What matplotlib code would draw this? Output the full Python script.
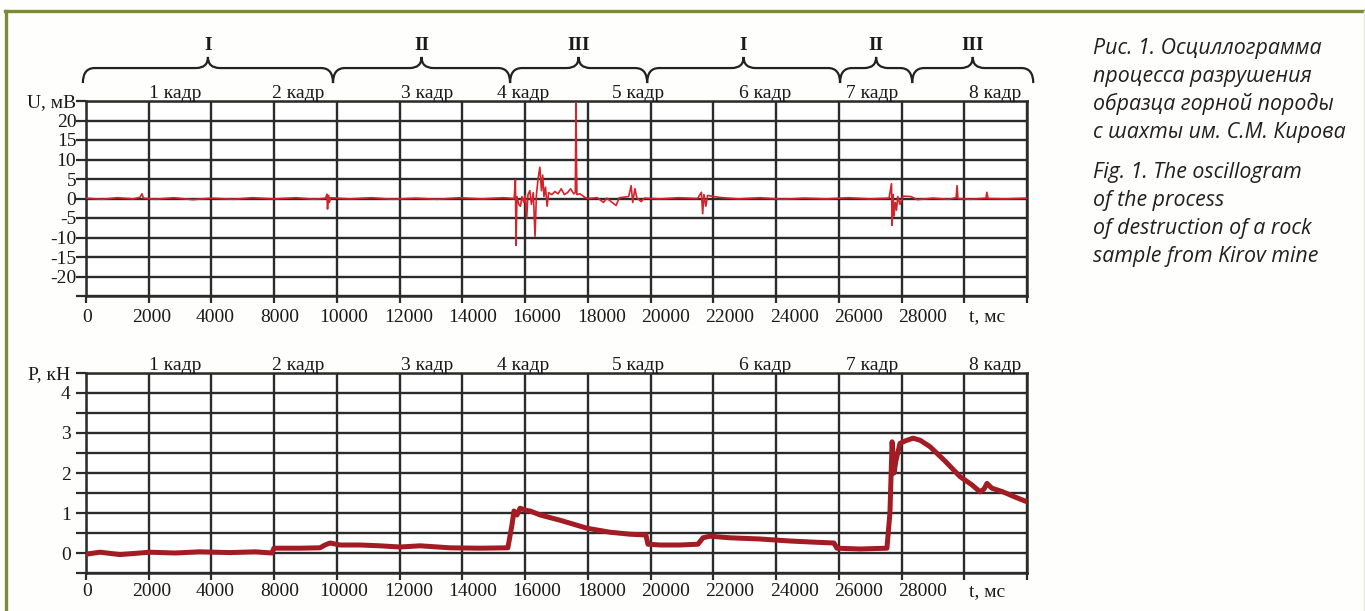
import numpy as np
import matplotlib
matplotlib.use('Agg')
import matplotlib.pyplot as plt
from matplotlib.path import Path
from matplotlib.patches import PathPatch
from matplotlib.lines import Line2D
import matplotlib.transforms as mtrans

W, H, DPI = 1365, 611, 100

# ---------------- data ----------------
x_grid = list(range(0, 30001, 2000))          # grid positions (axis units)
x_labels = ['0', '2000', '4000', '8000', '10000', '12000', '14000', '16000',
            '18000', '20000', '22000', '24000', '26000', '28000', 't, мс']

u_ticks = [-25, -20, -15, -10, -5, 0, 5, 10, 15, 20, 25]
u_labels = ['', '-20', '-15', '-10', '-5', '0', '5', '10', '15', '20', 'U, мВ']
p_ticks = [-0.5, 0, 0.5, 1, 1.5, 2, 2.5, 3, 3.5, 4, 4.5]
p_labels = ['', '0', '', '1', '', '2', '', '3', '', '4', 'P, кН']

frame_labels = ['1 кадр', '2 кадр', '3 кадр', '4 кадр', '5 кадр', '6 кадр', '7 кадр', '8 кадр']
frame_pos = [2840, 6760, 10870, 13930, 17600, 21650, 25060, 28980]

phase_bounds = [-100, 7875, 13520, 17890, 24040, 26340, 30200]
phase_labels = ['I', 'II', 'III', 'I', 'II', 'III']

# U, mV (top oscillogram)
u_t = [0, 500, 1000, 1500, 1720, 1785, 1830, 2200, 2800, 3400, 4000, 4700, 5300, 6000,
       6700, 7300, 7640, 7680, 7700, 7730, 7760, 7800, 8400, 9100, 9800, 10500, 11200,
       11900, 12600, 13300, 13650, 13690, 13710, 13740, 13800, 13850, 13900, 13960, 14000,
       14050, 14090, 14150, 14200, 14260, 14315, 14360, 14420, 14470, 14520, 14560, 14600,
       14650, 14700, 14750, 14850, 14950, 15050, 15150, 15250, 15350, 15450, 15550, 15600,
       15620, 15650, 15750, 15900, 16000, 16300, 16500, 16600, 16900, 17000, 17300, 17380,
       17430, 17500, 17560, 17700, 17800, 18300, 18900, 19500, 19620, 19660, 19700, 19760,
       19820, 20000, 20300, 20800, 21500, 22200, 22900, 23600, 24300, 25000, 25600, 25680,
       25700, 25730, 25760, 25800, 25840, 25880, 25950, 26050, 26300, 26500, 27000, 27500,
       27740, 27770, 27800, 28200, 28690, 28720, 28760, 29300, 30000]
u_v = [0.1, -0.2, 0.2, -0.1, 0.3, 1.2, 0.1, -0.2, 0.2, -0.3, 0.1, -0.2, 0.2, -0.1,
       0.2, -0.2, 0.1, 1.1, -2.7, 0.8, -1.0, 0.2, -0.1, 0.2, -0.2, 0.1, -0.2,
       0.2, -0.1, 0.2, 0.0, 4.8, -12.0, 0.5, -1.5, -2.0, 0.5, -1.0, 0.8,
       -5.0, 1.0, 2.0, -1.5, 1.5, -9.7, 1.0, 5.5, 8.0, 2.0, 6.0, 0.5,
       2.9, -2.0, 1.5, 1.0, 1.8, 1.2, 2.5, 1.0, 1.5, 2.5, 1.2, 1.5,
       24.4, 1.0, 1.2, 0.3, 0.0, 0.2, -1.0, 0.1, -1.8, 0.2, 0.5, 3.3,
       -1.0, 2.5, 0.2, -0.8, 0.1, -0.1, 0.2, 0.0, 1.6, -3.9, 1.0, -2.0,
       0.8, 0.5, 0.2, -0.1, 0.2, -0.2, 0.1, -0.1, 0.2, -0.1, 0.1, 3.8,
       -6.9, 1.0, -4.5, -1.0, -3.0, 0.5, -1.5, 0.6, 0.5, -0.3, 0.1, -0.2,
       0.2, 3.3, 0.0, -0.2, 0.1, 1.6, 0.0, -0.1, 0.1]

# P, kN (bottom oscillogram)
p_t = [0, 450, 1080, 1720, 2040, 2840, 3630, 4590, 5390, 5930, 5990, 6820, 7460, 7620,
       7780, 8100, 8740, 9370, 10010, 10650, 11600, 12560, 13450, 13580, 13645, 13740,
       13840, 14000, 14160, 14480, 15110, 15970, 16700, 17340, 17850, 17915, 18300, 18940,
       19510, 19670, 19890, 20530, 21490, 22440, 23240, 23845, 23940, 24680, 25535, 25630,
       25665, 25700, 25760, 25820, 25950, 26110, 26365, 26590, 26905, 27385, 27865, 28250,
       28500, 28630, 28725, 28880, 29230, 29615, 30000]
p_v = [-0.03, 0.02, -0.04, 0.0, 0.02, 0.0, 0.03, 0.01, 0.03, 0.0, 0.12, 0.12, 0.13, 0.2,
       0.25, 0.2, 0.2, 0.18, 0.15, 0.18, 0.13, 0.12, 0.13, 0.7, 1.05, 0.95,
       1.12, 1.07, 1.05, 0.95, 0.82, 0.62, 0.52, 0.47, 0.45, 0.22, 0.2, 0.2,
       0.22, 0.38, 0.42, 0.38, 0.35, 0.3, 0.27, 0.25, 0.12, 0.1, 0.12, 1.0,
       1.9, 2.78, 2.0, 2.3, 2.74, 2.8, 2.87, 2.82, 2.66, 2.3, 1.91, 1.7,
       1.53, 1.6, 1.74, 1.62, 1.53, 1.4, 1.28]

# ---------------- figure ----------------
SERIF = 'Liberation Serif'
GRID = '#2b2b2b'
fig = plt.figure(figsize=(W / DPI, H / DPI), dpi=DPI, facecolor='#fefefc')


def px_rect(l, t, r, b):
    return [l / W, 1 - b / H, (r - l) / W, (b - t) / H]


ax1 = fig.add_axes(px_rect(86, 101, 1027, 296))
ax2 = fig.add_axes(px_rect(86, 373, 1027, 573))

label_pos = [x * 1.025 + 30 for x in x_grid[:len(x_labels)]]


def style(ax, yticks, ylabels, ylim, xpad, ypad):
    ax.set_facecolor('white')
    ax.set_xlim(0, 30000)
    ax.set_ylim(*ylim)
    ax.set_xticks(x_grid)
    ax.set_xticklabels([''] * len(x_grid))
    ax.set_xticks(label_pos, minor=True)
    ax.set_xticklabels(x_labels, minor=True, fontfamily=SERIF, fontsize=14, color='#1a1a1a')
    ax.tick_params(axis='x', which='major', length=5, width=1.6, color=GRID, direction='out')
    ax.tick_params(axis='x', which='minor', length=0, pad=xpad)
    ax.set_yticks(yticks)
    ax.set_yticklabels(ylabels, fontfamily=SERIF, fontsize=14, color='#1a1a1a')
    ax.tick_params(axis='y', length=7, width=1.6, color=GRID, pad=ypad)
    ax.grid(True, which='major', color=GRID, lw=1.7)
    ax.set_axisbelow(True)
    for s in ax.spines.values():
        s.set_color(GRID)
        s.set_linewidth(1.8)
    for lab, xp in zip(frame_labels, frame_pos):
        ax.text(xp, 1.015, lab, transform=mtrans.blended_transform_factory(ax.transData, ax.transAxes),
                ha='center', va='baseline', fontfamily=SERIF, fontsize=14, color='#1a1a1a')


style(ax1, u_ticks, u_labels, (-25, 25), 9, 0)
style(ax2, p_ticks, p_labels, (-0.5, 4.5), 7, 4)

ax1.plot(u_t, u_v, color='#d3232b', lw=1.2, zorder=3)
ax2.plot(p_t, p_v, color='#a31b23', lw=3.6, solid_joinstyle='round', zorder=3)

# braces over the top panel
tr = mtrans.blended_transform_factory(ax1.transData, ax1.transAxes)
y_end, y_bar, y_peak, r = 1.092, 1.169, 1.226, 380
for x0, x1, lab in zip(phase_bounds[:-1], phase_bounds[1:], phase_labels):
    xm = (x0 + x1) / 2
    verts = [(x0, y_end), (x0, y_bar), (x0 + r, y_bar),
             (xm - r, y_bar), (xm, y_bar), (xm, y_peak),
             (xm, y_bar), (xm + r, y_bar),
             (x1 - r, y_bar), (x1, y_bar), (x1, y_end)]
    codes = [Path.MOVETO, Path.CURVE3, Path.CURVE3, Path.LINETO, Path.CURVE3, Path.CURVE3,
             Path.CURVE3, Path.CURVE3, Path.LINETO, Path.CURVE3, Path.CURVE3]
    ax1.add_patch(PathPatch(Path(verts, codes), transform=tr, fill=False, lw=1.6,
                            edgecolor='#222222', clip_on=False))
    ax1.text(xm, 1.287, lab, transform=tr, ha='center', va='center', fontfamily=SERIF,
             fontsize=14, fontweight='bold', color='#1a1a1a')

# page frame
OLIVE = '#7b8b3b'
fig.add_artist(Line2D([5 / W, 1], [1 - 11 / H, 1 - 11 / H], transform=fig.transFigure, color=OLIVE, lw=2.4))
fig.add_artist(Line2D([6 / W, 6 / W], [0, 1 - 11 / H], transform=fig.transFigure, color=OLIVE, lw=2.4))
fig.add_artist(Line2D([1364 / W, 1364 / W], [0, 1 - 11 / H], transform=fig.transFigure, color='#e6e8d8', lw=1))

# caption
cap_ru = ['Рис. 1. Осциллограмма', 'процесса разрушения', 'образца горной породы', 'с шахты им. С.М. Кирова']
cap_en = ['Fig. 1. The oscillogram', 'of the process', 'of destruction of a rock', 'sample from Kirov mine']
for i, s in enumerate(cap_ru):
    fig.text(1093 / W, 1 - (54 + 28 * i) / H, s, fontfamily='Open Sans', style='italic',
             fontsize=15.4, color='#231f20', va='baseline')
for i, s in enumerate(cap_en):
    fig.text(1093 / W, 1 - (178 + 28 * i) / H, s, fontfamily='Open Sans', style='italic',
             fontsize=15.4, color='#231f20', va='baseline')

fig.savefig('out.png', dpi=DPI, facecolor=fig.get_facecolor())
